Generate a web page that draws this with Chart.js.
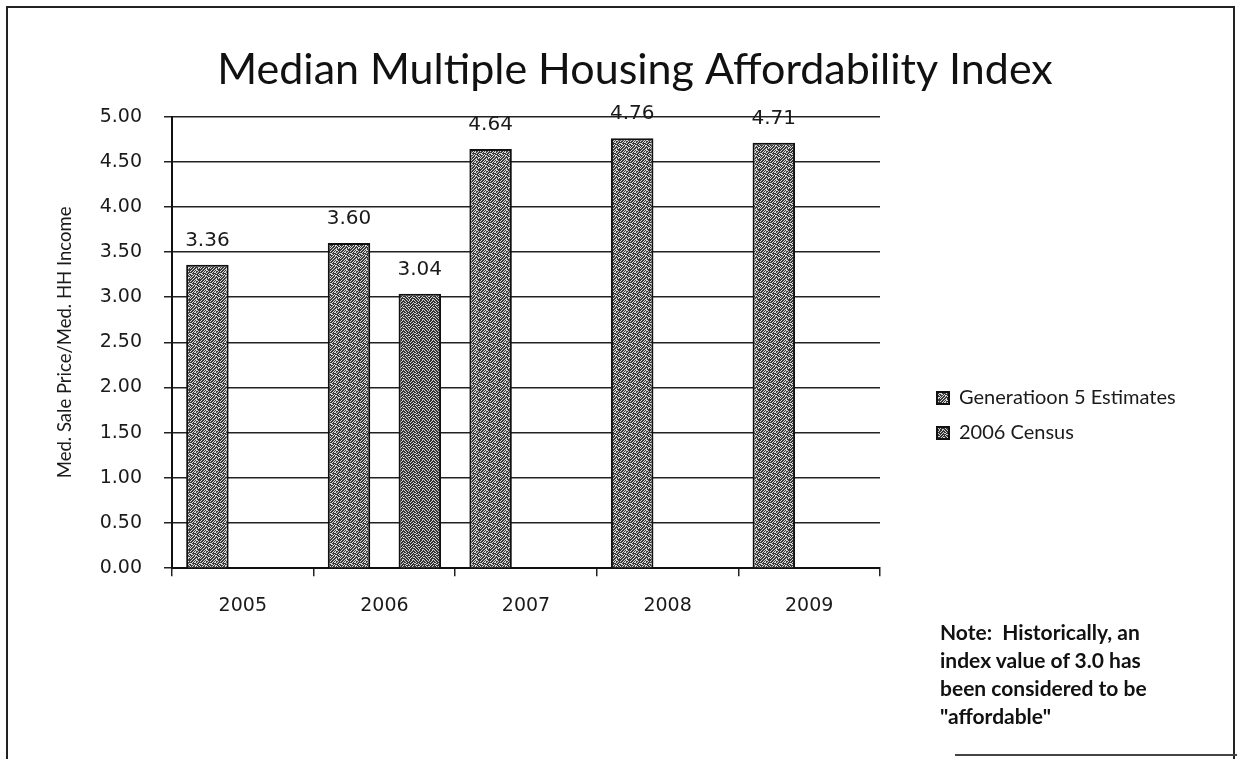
<!DOCTYPE html>
<html lang="en">
<head>
<meta charset="UTF-8">
<title>Median Multiple Housing Affordability Index</title>
<script src="https://cdn.jsdelivr.net/npm/chart.js"></script>
<style>
    body { margin: 0; background: #fff; }
    #wrap { position: absolute; left: 0; top: 0; width: 1237px; height: 759px; }
    #frame { position: absolute; left: 6px; top: 6px; width: 1225px; height: 760px; border: 2px solid #222; border-bottom: none; }
    #baseLine { position: absolute; left: 955px; top: 754px; width: 282px; border-top: 2px solid #444; }
    #note { position: absolute; left: 940px; top: 618px; font: 700 21px Lato; line-height: 28px; color: #111; }
</style>
</head>
<body>
    <div id="frame"></div>
    <div id="baseLine"></div>
    <div id="wrap"><canvas id="chart"></canvas></div>
    <div id="note">Note:&nbsp; Historically, an<br>index value of 3.0 has<br>been considered to be<br>"affordable"</div>

<script>
    // datos
    const years = ['2005', '2006', '2007', '2008', '2009'];
    const gen5Values = [3.36, 3.60, 4.64, 4.76, 4.71];
    const censusValues = [null, 3.04, null, null, null];
    const seriesNames = ['Generatioon 5 Estimates', '2006 Census'];
    const yMin = 0, yMax = 5, yStep = 0.5;

    // textura gris moteada de las barras
    function makePattern(motif, light, dark) {
        const c = document.createElement('canvas');
        c.width = motif[0].length;
        c.height = motif.length;
        const g = c.getContext('2d');
        g.fillStyle = light;
        g.fillRect(0, 0, c.width, c.height);
        g.fillStyle = dark;
        motif.forEach((row, y) => {
            [...row].forEach((v, x) => { if (v === '1') g.fillRect(x, y, 1, 1); });
        });
        return g.createPattern(c, 'repeat');
    }
    const motifA = [
        '1011010011',
        '0110101101',
        '1101001011',
        '0011110110',
        '1001011101',
        '1110100110',
        '0101101011',
        '1011011100',
        '0110110101',
        '1101100111'
    ];
    const motifB = [
        '1101011010',
        '1011101101',
        '0110110111',
        '1101001101',
        '1011110010',
        '0110101111',
        '1101110100',
        '1010011011',
        '0111101101',
        '1100110110'
    ];
    const fillA = makePattern(motifA, '#d8d8d8', '#3a3a3a');
    const fillB = makePattern(motifB, '#d0d0d0', '#333333');

    const valueLabels = {
        id: 'valueLabels',
        afterDatasetsDraw(chart) {
            const ctx = chart.ctx;
            ctx.save();
            ctx.font = '20px "DejaVu Sans"';
            ctx.fillStyle = '#1a1a1a';
            ctx.textAlign = 'center';
            ctx.textBaseline = 'bottom';
            chart.data.datasets.forEach((ds, i) => {
                chart.getDatasetMeta(i).data.forEach((bar, j) => {
                    if (ds.data[j] == null) return;
                    ctx.fillText(ds.data[j].toFixed(2), bar.x, bar.y - 14);
                });
            });
            ctx.restore();
        }
    };

    // leyenda a la derecha, separada del area del grafico
    const legendPlace = {
        id: 'legendPlace',
        beforeInit(chart) {
            const lg = chart.legend;
            const fit = lg.fit;
            lg.fit = function () { fit.call(this); this.width = 357; };
        },
        afterLayout(chart) {
            const lg = chart.legend;
            const w = lg.width, h = lg.height;
            lg.left = 922; lg.right = 922 + w;
            lg.top = 373; lg.bottom = 373 + h;
        }
    };

    const ctx = document.getElementById('chart').getContext('2d');
    Chart.defaults.font.family = '"DejaVu Sans"';
    Chart.defaults.color = '#1a1a1a';

    new Chart(ctx, {
        type: 'bar',
        data: {
            labels: years,
            datasets: [
                { label: seriesNames[0], data: gen5Values, backgroundColor: fillA, borderColor: '#111', borderWidth: 2 },
                { label: seriesNames[1], data: censusValues, backgroundColor: fillB, borderColor: '#111', borderWidth: 2 }
            ]
        },
        options: {
            responsive: true,
            maintainAspectRatio: false,
            animation: false,
            datasets: { bar: { categoryPercentage: 1.0, barPercentage: 0.6, grouped: true } },
            layout: { padding: { left: 33, right: 0, top: 0, bottom: 124 } },
            plugins: {
                title: {
                    display: true,
                    text: 'Median Multiple Housing Affordability Index',
                    font: { family: 'Lato', size: 43, weight: 'normal' },
                    color: '#111',
                    padding: { top: 44, bottom: 21 }
                },
                legend: {
                    position: 'right',
                    align: 'start',
                    labels: { boxWidth: 12, boxHeight: 12, padding: 15, font: { family: 'Lato', size: 20 }, color: '#1a1a1a' }
                },
                tooltip: { enabled: false }
            },
            scales: {
                x: {
                    grid: { offset: true, drawOnChartArea: false, color: '#222', lineWidth: 1.5, tickLength: 8 },
                    border: { color: '#111', width: 2 },
                    ticks: { font: { size: 19 }, padding: 18 }
                },
                y: {
                    min: yMin, max: yMax,
                    afterFit(scale) { scale.width = 139; },
                    grid: { color: '#222', lineWidth: 1.5, tickLength: 8 },
                    border: { color: '#111', width: 2 },
                    ticks: { stepSize: yStep, font: { size: 19 }, padding: 22, callback: v => v.toFixed(2) },
                    title: {
                        display: true,
                        text: 'Med. Sale Price/Med. HH Income',
                        font: { family: 'Lato', size: 18.5 },
                        padding: { top: 21, bottom: 0 }
                    }
                }
            }
        },
        plugins: [valueLabels, legendPlace]
    });
</script>
</body>
</html>
